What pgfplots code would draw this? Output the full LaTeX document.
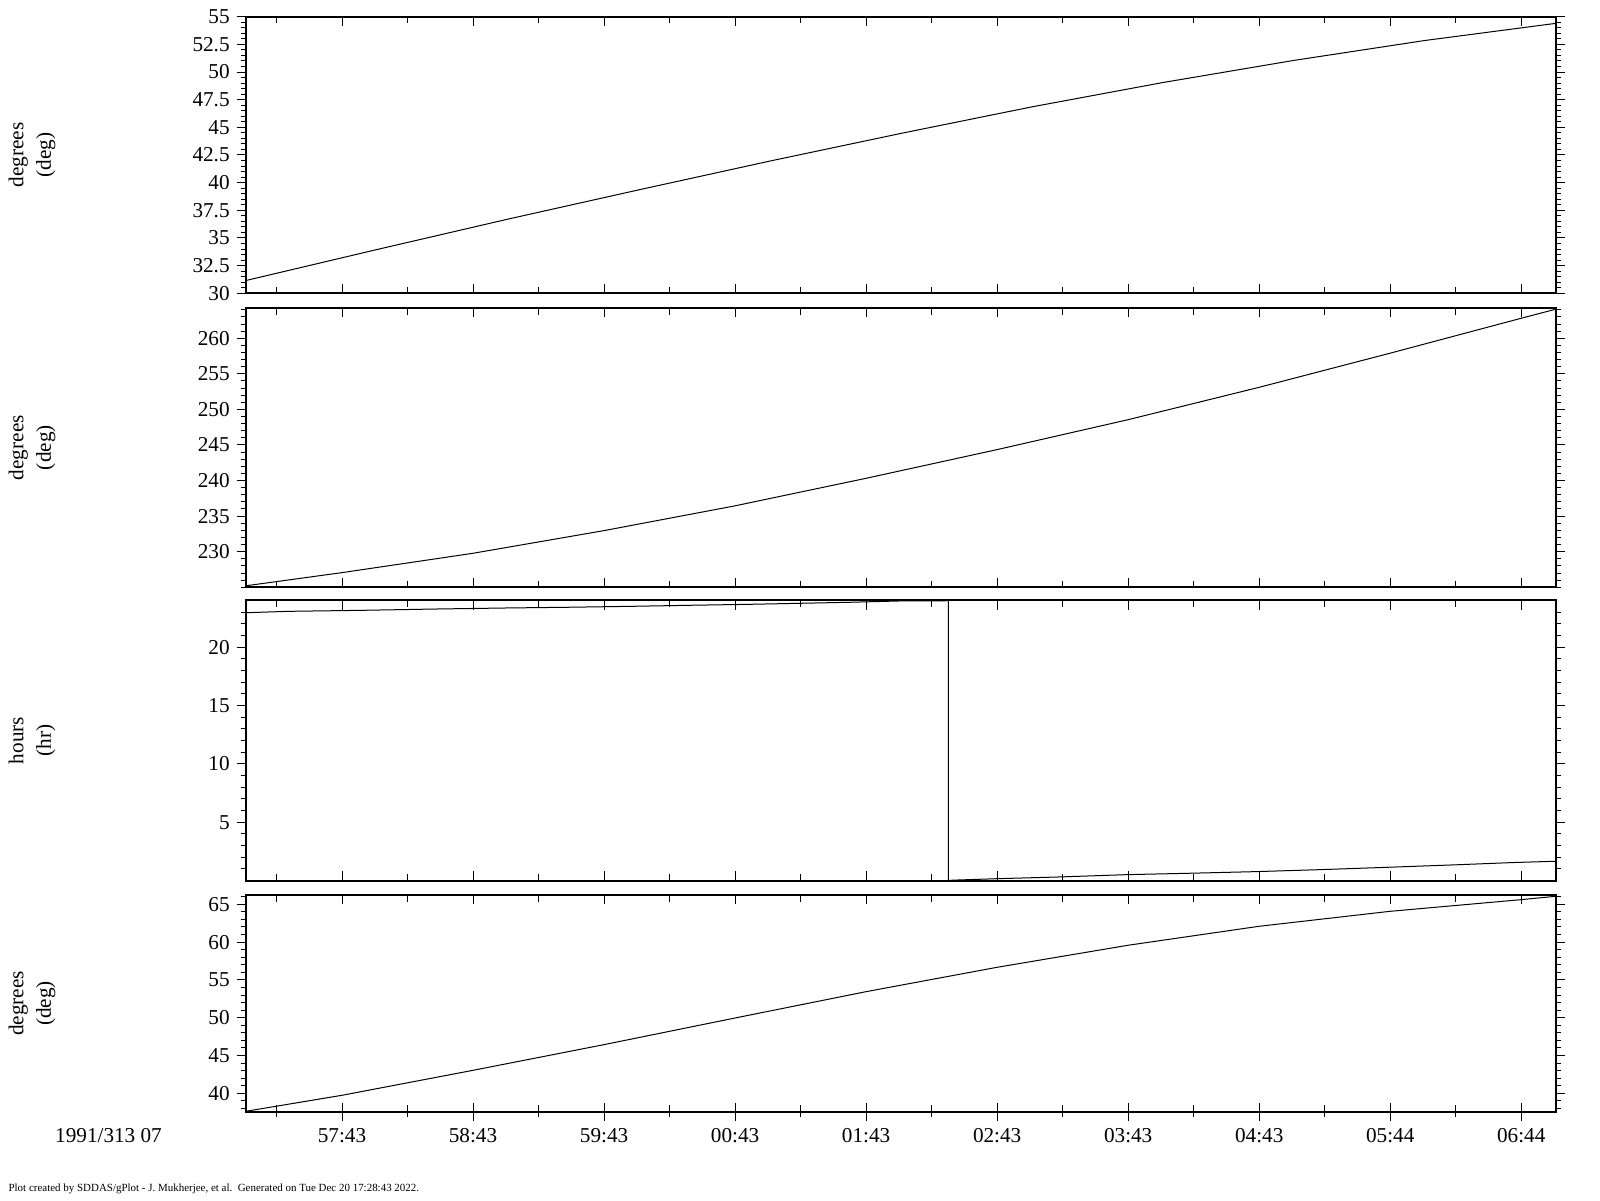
\documentclass[border=0pt]{standalone}
\usepackage{pgfplots}
\pgfplotsset{compat=1.18}
\usepackage{fontspec}
\setmainfont{Liberation Serif}
\begin{document}
\begin{tikzpicture}[x=1pt,y=1pt]
\path[use as bounding box] (0,0) rectangle (800,600);
\pgfplotsset{
  base/.style={anchor=south west, scale only axis, width=655.15pt, xmin=0, xmax=10,
    axis line style={line width=1pt},
    every tick/.style={line width=0.5pt, black},
    tick label style={font=\fontsize{10.6}{12}\selectfont},
    /pgf/number format/assume math mode=true},
  mainax/.style={base, tick align=inside, xtick pos=both,
    xtick={0.735,1.735,2.735,3.735,4.735,5.735,6.735,7.735,8.735,9.735},
    minor xtick={0.235,1.235,2.235,3.235,4.235,5.235,6.235,7.235,8.235,9.235},
    xticklabel=\empty, ytick=\empty,
    major tick length=4.7pt, minor tick length=3.3pt},
  ovax/.style={base, tick align=outside, ytick pos=both, yticklabel pos=left,
    major tick length=4.5pt, minor tick length=2.5pt, xtick=\empty,
    ylabel style={at={(axis description cs:-0.1631,0.5)}, anchor=center, align=center,
      font=\fontsize{10.6}{13.8}\selectfont}},
}
% ---------- Panel 1 ----------
\begin{axis}[mainax, at={(122.85pt,453.35pt)}, height=138.3pt, ymin=30, ymax=55]
\addplot[line width=0.5pt, black] coordinates {
(0,31.15) (1,33.95) (2,36.7) (3,39.35) (4,41.95) (5,44.45) (6,46.85) (7,49.05) (8,51.05) (9,52.85) (10,54.4)};
\end{axis}
\begin{axis}[ovax, at={(122.85pt,453.35pt)}, height=138.3pt, ymin=30, ymax=55,
  ytick={30,32.5,35,37.5,40,42.5,45,47.5,50,52.5,55},
  yticklabels={30,32.5,35,37.5,40,42.5,45,47.5,50,52.5,55},
  minor ytick={30,30.5,...,55},
  ylabel={degrees\\(deg)}]
\end{axis}
% ---------- Panel 2 ----------
\begin{axis}[mainax, at={(122.85pt,306.35pt)}, height=139.65pt, ymin=224.99, ymax=264.26]
\addplot[line width=0.5pt, black] coordinates {
(0,225.2) (0.735,227.05) (1.734,229.77) (2.732,232.95) (3.731,236.43) (4.736,240.32) (5.735,244.35) (6.733,248.55) (7.733,253.1) (8.733,257.9) (9.731,262.8) (10,264.1)};
\end{axis}
\begin{axis}[ovax, at={(122.85pt,306.35pt)}, height=139.65pt, ymin=224.99, ymax=264.26,
  ytick={230,235,240,245,250,255,260},
  yticklabels={230,235,240,245,250,255,260},
  minor ytick={225,...,264},
  ylabel={degrees\\(deg)}]
\end{axis}
% ---------- Panel 3 ----------
\begin{axis}[mainax, at={(122.85pt,159.75pt)}, height=140pt, ymin=0, ymax=24]
\addplot[line width=0.5pt, black] coordinates {
(0,22.95) (0.32,23.07) (0.9,23.16) (1.45,23.27) (2.0,23.36) (2.46,23.42) (2.94,23.5) (3.39,23.59) (3.83,23.67) (4.23,23.76) (4.62,23.85) (4.99,23.96) (5.32,23.96) (5.362,24) (5.362,0) (5.40,0.03) (5.75,0.16) (6.2,0.3) (6.72,0.5) (7.2,0.62) (7.71,0.76) (8.2,0.93) (8.71,1.13) (9.2,1.33) (9.70,1.55) (10,1.65)};
\end{axis}
\begin{axis}[ovax, at={(122.85pt,159.75pt)}, height=140pt, ymin=0, ymax=24,
  ytick={5,10,15,20},
  yticklabels={5,10,15,20},
  minor ytick={1,...,23},
  ylabel={hours\\(hr)}]
\end{axis}
% ---------- Panel 4 ----------
\begin{axis}[mainax, at={(122.85pt,44pt)}, height=108.5pt, ymin=37.53, ymax=66.23]
\addplot[line width=0.5pt, black] coordinates {
(0,37.62) (0.735,39.74) (1.734,43.04) (2.732,46.43) (3.731,49.95) (4.736,53.45) (5.735,56.67) (6.733,59.58) (7.733,62.09) (8.733,64.07) (9.731,65.61) (10,66.06)};
\end{axis}
\begin{axis}[ovax, at={(122.85pt,44pt)}, height=108.5pt, ymin=37.53, ymax=66.23,
  ytick={40,45,50,55,60,65},
  yticklabels={40,45,50,55,60,65},
  minor ytick={38,...,66},
  xtick pos=left, major tick length=4.5pt,
  xtick={0.735,1.735,2.735,3.735,4.735,5.735,6.735,7.735,8.735,9.735},
  minor xtick={0.235,1.235,2.235,3.235,4.235,5.235,6.235,7.235,8.235,9.235},
  xticklabels={57:43,58:43,59:43,00:43,01:43,02:43,03:43,04:43,05:44,06:44},
  ylabel={degrees\\(deg)}]
\end{axis}
\node[font=\fontsize{10.6}{12}\selectfont] at (54.25,32) {1991/313 07};
\node[anchor=west, inner sep=0pt, font=\fontsize{5.48}{6.5}\selectfont] at (4.1,5.5) {Plot created by SDDAS/gPlot - J. Mukherjee, et al.\ \ Generated on Tue Dec 20 17:28:43 2022.};
\end{tikzpicture}
\end{document}
